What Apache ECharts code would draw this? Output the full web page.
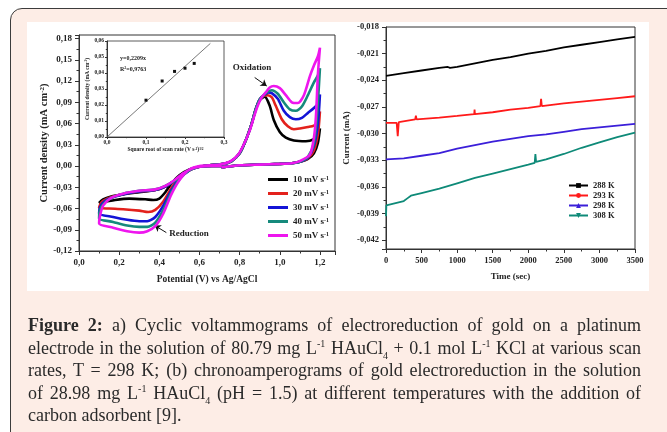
<!DOCTYPE html>
<html>
<head>
<meta charset="utf-8">
<script src="https://cdn.jsdelivr.net/npm/echarts@6/dist/echarts.min.js"></script>
<style>
html, body { margin: 0; padding: 0; background: #fff; width: 667px; height: 432px; overflow: hidden; }
#box { position: absolute; left: 10px; top: 8px; width: 690px; height: 460px; border: 1.5px solid #3c3c3c; border-radius: 12px; background: #fdede6; }
#panel { position: absolute; left: 27px; top: 22px; width: 622px; height: 269px; background: #fff; }
#chart { position: absolute; left: 0; top: 0; width: 667px; height: 432px; }
#caption { position: absolute; left: 28px; top: 314px; width: 613px; font-family: 'Liberation Serif', serif; font-size: 18px; line-height: 22.6px; color: #2a2a2a; }
#caption div { text-align: justify; text-align-last: justify; white-space: nowrap; }
#caption div.last { text-align-last: left; }
#caption sup, #caption sub { font-size: 10px; line-height: 0; }
</style>
</head>
<body>
<div id="box"></div>
<div id="panel"></div>
<div id="chart"></div>
<div id="caption">
  <div><b>Figure 2:</b> a) Cyclic voltammograms of electroreduction of gold on a platinum</div>
  <div>electrode in the solution of 80.79 mg L<sup>-1</sup> HAuCl<sub>4</sub> + 0.1 mol L<sup>-1</sup> KCl at various scan</div>
  <div>rates, T = 298 K; (b) chronoamperograms of gold electroreduction in the solution</div>
  <div>of 28.98 mg L<sup>-1</sup> HAuCl<sub>4</sub> (pH = 1.5) at different temperatures with the addition of</div>
  <div class="last">carbon adsorbent [9].</div>
</div>
<script>
// (a) cyclic voltammograms, [potential V, current density mA cm-2]
const scanRates = ['10', '20', '30', '40', '50'];
const cv10 = [[0.71,-0.002],[0.8,0.001],[0.9,0.002],[1.0,0.003],[1.06,0.004],[1.1,0.006],[1.14,0.01],[1.17,0.018],[1.19,0.033],[1.2,0.053],
  [1.19,0.044],[1.17,0.038],[1.13,0.035],[1.07,0.036],[1.03,0.04],[1.0,0.048],[0.97,0.065],[0.95,0.085],[0.925,0.098],[0.9,0.093],[0.88,0.08],[0.86,0.06],[0.83,0.036],[0.8,0.018],[0.76,0.007],[0.72,0.003],[0.65,0.001],[0.6,-0.001],[0.55,-0.005],[0.5,-0.013],[0.46,-0.025],[0.43,-0.037],[0.4,-0.046],[0.37,-0.048],[0.33,-0.047],[0.25,-0.046],[0.18,-0.048],[0.1,-0.052],
  [0.12,-0.047],[0.16,-0.043],[0.22,-0.04],[0.3,-0.037],[0.38,-0.034],[0.43,-0.029],[0.48,-0.02],[0.52,-0.011],[0.56,-0.004],[0.6,-0.001],[0.66,0.0],[0.71,0.0]];
const cv20 = [[0.71,-0.002],[0.8,0.001],[0.9,0.002],[1.0,0.003],[1.06,0.004],[1.1,0.006],[1.14,0.011],[1.17,0.022],[1.19,0.045],[1.2,0.077],
  [1.19,0.062],[1.17,0.057],[1.14,0.055],[1.1,0.053],[1.07,0.052],[1.04,0.056],[1.01,0.066],[0.98,0.085],[0.96,0.097],[0.94,0.1],[0.92,0.099],[0.9,0.094],[0.88,0.08],[0.86,0.06],[0.83,0.036],[0.8,0.018],[0.76,0.007],[0.72,0.003],[0.65,0.001],[0.6,-0.001],[0.55,-0.006],[0.5,-0.016],[0.46,-0.031],[0.42,-0.05],[0.38,-0.062],[0.345,-0.065],[0.3,-0.063],[0.22,-0.061],[0.15,-0.06],[0.1,-0.059],
  [0.11,-0.052],[0.14,-0.046],[0.2,-0.041],[0.3,-0.036],[0.38,-0.034],[0.43,-0.029],[0.48,-0.02],[0.52,-0.011],[0.56,-0.004],[0.6,-0.001],[0.66,0.0],[0.71,0.0]];
const cv30 = [[0.71,-0.002],[0.8,0.001],[0.9,0.002],[1.0,0.003],[1.06,0.004],[1.1,0.006],[1.14,0.012],[1.17,0.028],[1.19,0.06],[1.2,0.101],
  [1.19,0.088],[1.17,0.082],[1.14,0.075],[1.11,0.068],[1.08,0.066],[1.05,0.069],[1.02,0.078],[0.99,0.095],[0.96,0.103],[0.945,0.104],[0.92,0.1],[0.9,0.094],[0.88,0.08],[0.86,0.06],[0.83,0.036],[0.8,0.018],[0.76,0.007],[0.72,0.003],[0.65,0.001],[0.6,-0.001],[0.55,-0.006],[0.5,-0.018],[0.46,-0.034],[0.42,-0.056],[0.38,-0.072],[0.34,-0.078],[0.3,-0.078],[0.24,-0.076],[0.17,-0.072],[0.1,-0.067],
  [0.105,-0.058],[0.13,-0.049],[0.18,-0.043],[0.25,-0.038],[0.3,-0.036],[0.38,-0.034],[0.43,-0.029],[0.48,-0.02],[0.52,-0.011],[0.56,-0.004],[0.6,-0.001],[0.66,0.0],[0.71,0.0]];
const cv40 = [[0.71,-0.002],[0.8,0.001],[0.9,0.002],[1.0,0.003],[1.06,0.004],[1.1,0.006],[1.14,0.013],[1.17,0.032],[1.185,0.07],[1.2,0.138],
  [1.19,0.128],[1.17,0.118],[1.14,0.1],[1.11,0.084],[1.08,0.078],[1.05,0.08],[1.02,0.09],[0.99,0.102],[0.96,0.107],[0.94,0.105],[0.92,0.1],[0.9,0.094],[0.88,0.08],[0.86,0.06],[0.83,0.036],[0.8,0.018],[0.76,0.007],[0.72,0.003],[0.65,0.001],[0.6,-0.001],[0.55,-0.006],[0.5,-0.019],[0.46,-0.037],[0.42,-0.062],[0.38,-0.08],[0.34,-0.086],[0.3,-0.086],[0.24,-0.084],[0.17,-0.079],[0.1,-0.074],
  [0.103,-0.064],[0.12,-0.054],[0.16,-0.045],[0.22,-0.039],[0.3,-0.035],[0.38,-0.033],[0.43,-0.028],[0.48,-0.02],[0.52,-0.011],[0.56,-0.004],[0.6,-0.001],[0.66,0.0],[0.71,0.0]];
const cv50 = [[0.71,-0.002],[0.8,0.001],[0.9,0.002],[1.0,0.003],[1.06,0.004],[1.1,0.007],[1.15,0.016],[1.17,0.04],[1.18,0.07],[1.19,0.13],[1.2,0.167],
  [1.19,0.155],[1.17,0.142],[1.15,0.127],[1.12,0.1],[1.09,0.089],[1.06,0.09],[1.03,0.1],[1.0,0.11],[0.97,0.113],[0.95,0.111],[0.93,0.104],[0.91,0.097],[0.89,0.085],[0.87,0.068],[0.85,0.05],[0.82,0.03],[0.79,0.015],[0.75,0.006],[0.7,0.002],[0.6,0.0],[0.55,-0.005],[0.5,-0.02],[0.46,-0.04],[0.42,-0.067],[0.38,-0.085],[0.34,-0.092],[0.3,-0.094],[0.24,-0.092],[0.17,-0.087],[0.1,-0.081],
  [0.105,-0.07],[0.12,-0.056],[0.16,-0.045],[0.22,-0.039],[0.3,-0.035],[0.38,-0.033],[0.43,-0.028],[0.48,-0.019],[0.52,-0.01],[0.56,-0.004],[0.6,-0.001],[0.66,0.0],[0.71,0.0]];

// inset: peak current vs square root of scan rate
const insetRoot = [0.1, 0.1414, 0.1732, 0.2, 0.2236];
const insetPeak = [0.023, 0.035, 0.041, 0.043, 0.046];
const insetFit = [[0, 0], [0.265, 0.0585]];

// (b) chronoamperograms, [time s, current mA]
const temps = ['288 K', '293 K', '298 K', '308 K'];
const ca288 = [[0,-0.0235],[250,-0.0232],[500,-0.0229],[750,-0.0226],[870,-0.0225],[900,-0.0226],[1000,-0.0225],[1250,-0.0221],[1500,-0.0217],[1750,-0.0214],[2000,-0.021],[2250,-0.0207],[2500,-0.0203],[2750,-0.02],[3000,-0.0197],[3250,-0.0194],[3500,-0.0191]];
const ca293 = [[0,-0.0288],[150,-0.0288],[165,-0.0303],[180,-0.0287],[410,-0.0284],[420,-0.028],[430,-0.0284],[750,-0.0282],[1000,-0.028],[1240,-0.0278],[1245,-0.0273],[1250,-0.0278],[1500,-0.0276],[1750,-0.0273],[2000,-0.0271],[2170,-0.0269],[2180,-0.0261],[2190,-0.0269],[2500,-0.0266],[2750,-0.0264],[3000,-0.0262],[3250,-0.026],[3500,-0.0258]];
const ca298 = [[0,-0.0329],[250,-0.0328],[500,-0.0325],[750,-0.0322],[1000,-0.0317],[1250,-0.0313],[1500,-0.0309],[1750,-0.0306],[2000,-0.0303],[2250,-0.0301],[2500,-0.0298],[2750,-0.0295],[3000,-0.0293],[3250,-0.0291],[3500,-0.0289]];
const ca308 = [[0,-0.0393],[5,-0.0381],[250,-0.0376],[300,-0.0373],[350,-0.037],[500,-0.0367],[750,-0.0362],[1000,-0.0356],[1250,-0.035],[1500,-0.0345],[1750,-0.034],[2000,-0.0335],[2090,-0.0333],[2100,-0.0323],[2110,-0.0332],[2250,-0.0329],[2500,-0.0323],[2750,-0.0316],[3000,-0.031],[3250,-0.0304],[3500,-0.0299]];

const serif = 'Liberation Serif';
const ink = '#222';

// label formatter: only show multiples of step, with decimal comma
function fmt(step, digits) {
  return function (v) {
    const k = v / step;
    if (Math.abs(k - Math.round(k)) > 1e-6) return '';
    return v.toFixed(digits).replace('.', ',');
  };
}

function axis(grid, min, max, size, labelFmt, opts) {
  return Object.assign({
    gridIndex: grid, type: 'value', min: min, max: max,
    axisLine: { show: true, onZero: false, lineStyle: { color: '#333', width: 1 } },
    axisTick: { show: true, inside: false, length: size > 7 ? 4 : 2, lineStyle: { color: '#333' } },
    minorTick: { show: true, splitNumber: 2, length: size > 7 ? 2.5 : 1.2, lineStyle: { color: '#333' } },
    splitLine: { show: false },
    axisLabel: { formatter: labelFmt, fontFamily: serif, fontWeight: 'bold', fontSize: size, color: ink, margin: size > 7 ? 7 : 3 },
    nameLocation: 'middle',
    nameTextStyle: { fontFamily: serif, fontWeight: 'bold', color: ink }
  }, opts);
}

const supRich = size => ({ s: { fontFamily: serif, fontWeight: 'bold', fontSize: size, color: ink, verticalAlign: 'top' } });

const cvColors = ['#000000', '#e3211c', '#1414d6', '#168a7c', '#ee16ee'];
const cvData = [cv10, cv20, cv30, cv40, cv50];
const caColors = ['#000000', '#ff1a1a', '#3b1fd9', '#0e8a78'];
const caData = [ca288, ca293, ca298, ca308];
const caSymbols = ['rect', 'circle', 'triangle', 'triangle'];

const series = [];
cvData.forEach((d, i) => {
  series.push({
    name: scanRates[i], type: 'line', xAxisIndex: 0, yAxisIndex: 0, data: d,
    symbol: 'none', smooth: 0.25, lineStyle: { width: 2.6, color: cvColors[i] }, itemStyle: { color: cvColors[i] },
    z: 2 + i
  });
});
// arrows for the annotations
series[4].markLine = {
  silent: true, symbol: ['none', 'arrow'], symbolSize: 6, animation: false,
  lineStyle: { color: '#111', width: 1, type: 'solid' }, label: { show: false },
  data: [
    [{ coord: [0.875, 0.125] }, { coord: [0.935, 0.113] }],
    [{ coord: [0.435, -0.094] }, { coord: [0.377, -0.084] }]
  ]
};
series.push({
  type: 'line', xAxisIndex: 1, yAxisIndex: 1, data: insetFit, symbol: 'none', z: 10,
  lineStyle: { width: 0.8, color: '#555' }
});
series.push({
  type: 'scatter', xAxisIndex: 1, yAxisIndex: 1, symbol: 'rect', symbolSize: 3, z: 11,
  data: insetRoot.map((x, i) => [x, insetPeak[i]]), itemStyle: { color: '#111', opacity: 1 }
});
caData.forEach((d, i) => {
  series.push({
    name: temps[i], type: 'line', xAxisIndex: 2, yAxisIndex: 2, data: d,
    showSymbol: false, symbol: caSymbols[i], symbolSize: 5, symbolRotate: i === 3 ? 180 : 0,
    lineStyle: { width: 1.8, color: caColors[i] }, itemStyle: { color: caColors[i] }
  });
});

const chart = echarts.init(document.getElementById('chart'));
const option = {
  animation: false,
  grid: [
    { left: 79, top: 35, width: 256, height: 216, show: true, borderColor: '#333', borderWidth: 1, backgroundColor: 'transparent' },
    { left: 107, top: 41, width: 117, height: 96, show: true, borderColor: '#333', borderWidth: 0.8, backgroundColor: '#fff' },
    { left: 386, top: 27, width: 249, height: 222, show: true, borderColor: '#333', borderWidth: 1, backgroundColor: 'transparent' }
  ],
  xAxis: [
    axis(0, 0, 1.275, 9, fmt(0.2, 1), { interval: 0.2, name: 'Potential (V) vs Ag/AgCl', nameGap: 24,
      nameTextStyle: { fontFamily: serif, fontWeight: 'bold', color: ink, fontSize: 9.5 } }),
    axis(1, 0, 0.3, 5.5, fmt(0.1, 1), { interval: 0.1, name: 'Square root of scan rate (V s{s|-1}){s|1/2}', nameGap: 9,
      nameTextStyle: { fontFamily: serif, fontWeight: 'bold', color: ink, fontSize: 5.5, rich: supRich(3.5) } }),
    axis(2, 0, 3500, 8.5, fmt(500, 0), { interval: 500, name: 'Time (sec)', nameGap: 23,
      nameTextStyle: { fontFamily: serif, fontWeight: 'bold', color: ink, fontSize: 9 } })
  ],
  yAxis: [
    axis(0, -0.12, 0.185, 9, fmt(0.03, 2), { interval: 0.03, name: 'Current density (mA cm{s|-2})', nameGap: 29,
      nameTextStyle: { fontFamily: serif, fontWeight: 'bold', color: ink, fontSize: 10.5, rich: supRich(7) } }),
    axis(1, 0, 0.06, 5.5, fmt(0.01, 2), { interval: 0.01, name: 'Current density (mA cm{s|-2})', nameGap: 15,
      nameTextStyle: { fontFamily: serif, fontWeight: 'bold', color: ink, fontSize: 5.5, rich: supRich(3.5) } }),
    axis(2, -0.043, -0.018, 8.5, fmt(0.003, 3), { splitNumber: 8, minInterval: 0.003, maxInterval: 0.003, name: 'Current (mA)', nameGap: 35,
      nameTextStyle: { fontFamily: serif, fontWeight: 'bold', color: ink, fontSize: 9 } })
  ],
  legend: [
    {
      data: scanRates, orient: 'vertical', left: 263, top: 170, itemWidth: 20, itemHeight: 3, itemGap: 5,
      icon: 'rect', formatter: n => n + ' mV s{s|-1}',
      textStyle: { fontFamily: serif, fontWeight: 'bold', fontSize: 9, color: ink, rich: supRich(6) }
    },
    {
      data: temps, orient: 'vertical', left: 563, top: 176, itemWidth: 19, itemHeight: 6, itemGap: 1,
      textStyle: { fontFamily: serif, fontWeight: 'bold', fontSize: 8.5, color: ink }
    }
  ],
  graphic: [
    { type: 'text', x: 252, y: 68, z: 10, style: { text: 'Oxidation', font: 'bold 9px "Liberation Serif"', fill: ink, align: 'center', verticalAlign: 'middle' } },
    { type: 'text', x: 189, y: 234, z: 10, style: { text: 'Reduction', font: 'bold 9px "Liberation Serif"', fill: ink, align: 'center', verticalAlign: 'middle' } },
    { type: 'text', x: 120, y: 58, z: 10, style: { text: 'y=0,2209x', font: 'bold 6px "Liberation Serif"', fill: ink, align: 'left', verticalAlign: 'middle' } },
    { type: 'text', x: 120, y: 69, z: 10, style: { text: '{n|R}{s|2}{n|=0,9763}', align: 'left', verticalAlign: 'middle',
      rich: { n: { font: 'bold 6px "Liberation Serif"', fill: ink }, s: { font: 'bold 4px "Liberation Serif"', fill: ink, verticalAlign: 'top' } } } }
  ],
  series: series
};
chart.setOption(option);
</script>
</body>
</html>
